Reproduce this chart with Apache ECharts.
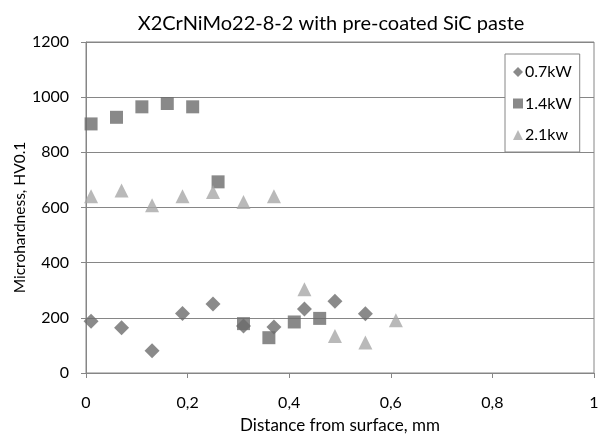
<!DOCTYPE html>
<html>
<head>
<meta charset="utf-8">
<script src="https://cdn.jsdelivr.net/npm/echarts@6/dist/echarts.min.js"></script>
<style>
  html, body { margin: 0; padding: 0; background: #fff; }
  #chart { width: 600px; height: 434px; }
</style>
</head>
<body>
<div id="chart"></div>
<script>
  // values: [distance mm, HV0.1]
  const p07 = [[0.01, 188], [0.07, 164], [0.13, 81], [0.19, 216], [0.25, 250],
               [0.31, 170], [0.37, 167], [0.43, 232], [0.49, 260], [0.55, 215]];
  const p14 = [[0.01, 903], [0.06, 927], [0.11, 965], [0.16, 977], [0.21, 965],
               [0.26, 693], [0.31, 179], [0.36, 128], [0.41, 185], [0.46, 198]];
  const p21 = [[0.01, 641], [0.07, 662], [0.13, 608], [0.19, 641], [0.25, 656],
               [0.31, 620], [0.37, 641], [0.43, 304], [0.49, 134], [0.55, 111], [0.61, 191]];
  const seriesNames = ['0.7kW', '1.4kW', '2.1kw'];

  const font = 'Lato, Liberation Sans, sans-serif';
  const chart = echarts.init(document.getElementById('chart'));

  const option = {
    animation: false,
    textStyle: { fontFamily: font },
    title: {
      text: 'X2CrNiMo22-8-2 with pre-coated SiC paste',
      left: 326, top: 9, textAlign: 'center',
      textStyle: { fontSize: 20, fontWeight: 'normal', color: '#000', fontFamily: font }
    },
    legend: {
      orient: 'vertical',
      left: 505, top: 54, width: 74, height: 95,
      padding: [10, 8, 9, 8],
      itemGap: 15.5,
      itemWidth: 10, itemHeight: 10,
      borderColor: '#868686', borderWidth: 1,
      backgroundColor: '#fff',
      textStyle: { fontSize: 16, color: '#000', fontFamily: font, padding: [0, 0, 0, -3] },
      data: [
        { name: seriesNames[0], icon: 'diamond' },
        { name: seriesNames[1], icon: 'rect' },
        { name: seriesNames[2], icon: 'triangle' }
      ]
    },
    grid: {
      left: 86, right: 6, top: 42, bottom: 61,
      containLabel: false, outerBoundsMode: 'none',
      show: true, borderColor: '#868686', borderWidth: 1
    },
    xAxis: {
      type: 'value', min: 0, max: 1, interval: 0.2,
      name: 'Distance from surface, mm',
      nameLocation: 'middle', nameGap: 44,
      nameTextStyle: { fontSize: 17, color: '#000' },
      axisLine: { lineStyle: { color: '#868686' } },
      axisTick: { show: true, length: 5, lineStyle: { color: '#868686' } },
      axisLabel: {
        color: '#000', fontSize: 16, margin: 22,
        formatter: v => String(Math.round(v * 10) / 10).replace('.', ',')
      },
      splitLine: { show: false }
    },
    yAxis: {
      type: 'value', min: 0, max: 1200, interval: 200,
      name: 'Microhardness, HV0.1',
      nameLocation: 'middle', nameGap: 58, nameMoveOverlap: false,
      nameTextStyle: { fontSize: 15.5, color: '#000', padding: [0, 20, 0, 0] },
      axisLine: { show: true, lineStyle: { color: '#868686' } },
      axisTick: { show: true, length: 5, lineStyle: { color: '#868686' } },
      axisLabel: { color: '#000', fontSize: 16, margin: 17, formatter: v => String(v) },
      splitLine: { lineStyle: { color: '#868686' } }
    },
    series: [
      {
        name: seriesNames[0], type: 'scatter', symbol: 'diamond', symbolSize: 15,
        itemStyle: { color: '#6d6d6d' }, data: p07
      },
      {
        name: seriesNames[1], type: 'scatter', symbol: 'rect', symbolSize: 13,
        itemStyle: { color: '#6b6b6b' }, data: p14
      },
      {
        name: seriesNames[2], type: 'scatter', symbol: 'triangle', symbolSize: 14,
        itemStyle: { color: '#a8a8a8' }, data: p21
      }
    ]
  };

  chart.setOption(option);
</script>
</body>
</html>
